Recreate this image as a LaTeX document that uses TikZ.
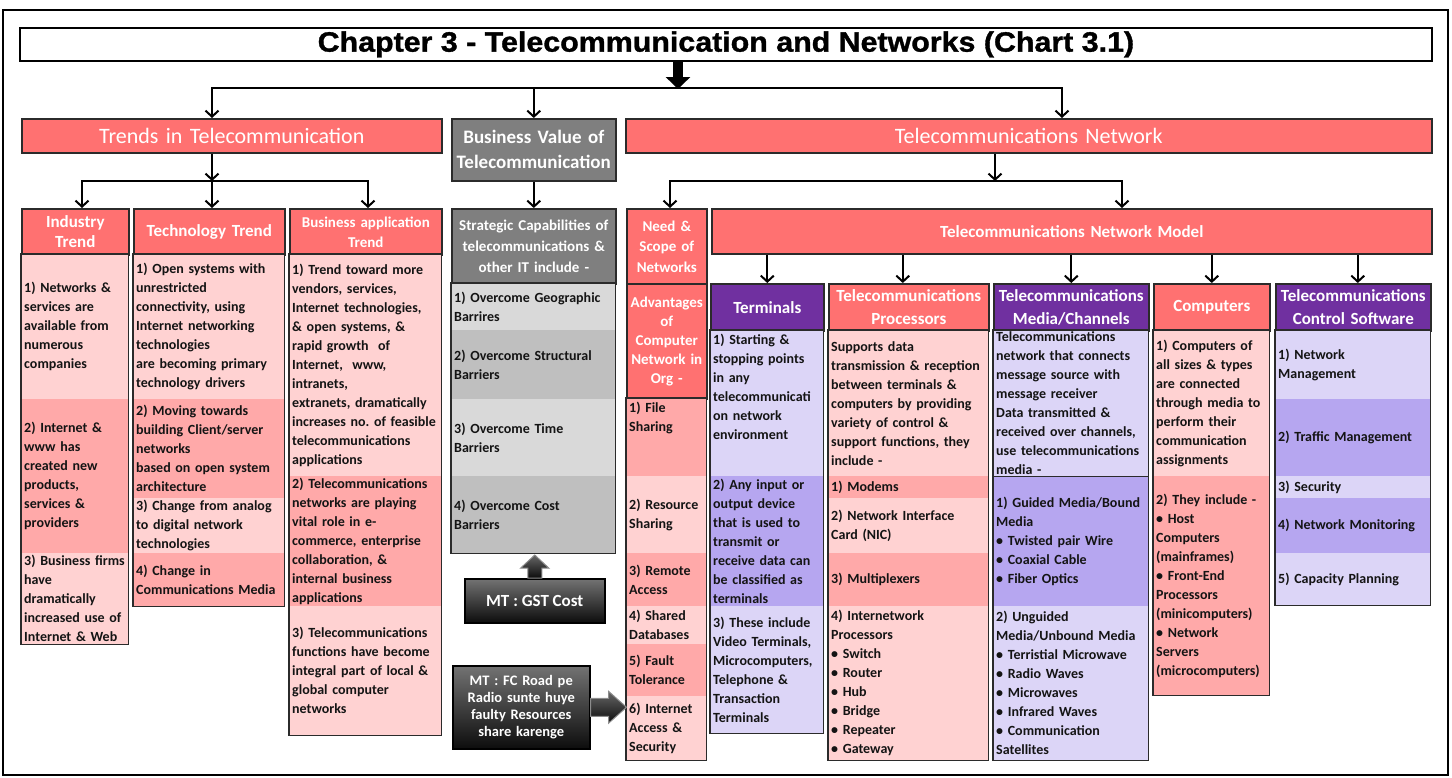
\documentclass[tikz,border=0pt]{standalone}
\usepackage{fontspec}
\setmainfont{Carlito}
\newfontfamily\headfont{Liberation Sans}[FakeStretch=1.085, FakeBold=1.2]
\usetikzlibrary{arrows.meta,calc}
\hyphenpenalty=10000
\exhyphenpenalty=10000
\frenchspacing

\definecolor{salmon}{HTML}{FF7171}
\definecolor{pinkL}{HTML}{FFD2D2}
\definecolor{pinkD}{HTML}{FFA9A9}
\definecolor{violet}{HTML}{7030A0}
\definecolor{lavL}{HTML}{DCD5F7}
\definecolor{lavD}{HTML}{B6A6F0}
\definecolor{greyH}{HTML}{7F7F7F}
\definecolor{greyL}{HTML}{D9D9D9}
\definecolor{greyD}{HTML}{BFBFBF}
\definecolor{edge}{HTML}{2B2B2B}

\tikzset{
  hdr/.style={draw=edge, line width=1.6pt, text=white, font=\bfseries\fontsize{17}{20.5}\selectfont, align=center, inner sep=0pt},
  bg/.style={inner sep=0pt, draw=none},
  bodytxt/.style={font=\bfseries\fontsize{14}{19}\selectfont, text=black!92, align=left, inner xsep=0pt, inner ysep=4pt},
  colframe/.style={draw=edge, line width=1.6pt},
  link/.style={line width=2.2pt, black},
  mtbox/.style={draw=black, line width=1.5pt, top color=black!55, bottom color=black!95, text=white, align=center, inner sep=2pt},
  blockarr/.style={draw=black!45, line width=1pt, top color=black!60, bottom color=black!95},
}

% header cell: [font] name x1 y1 x2 y2 fill text
\newcommand{\hcell}[8][]{%
  \pgfmathsetmacro{\cw}{#5-#3}\pgfmathsetmacro{\ch}{#6-#4}\pgfmathsetmacro{\tw}{#5-#3-4}%
  \node[hdr, fill=#7, #1, anchor=north west, minimum width=\cw pt, minimum height=\ch pt, text width=\tw pt] (#2) at (#3,#4) {#8};}

% body cell: [anchor] name x1 y1 x2 y2 fill text
\newcommand{\tcell}[8][center]{%
  \pgfmathsetmacro{\cw}{#5-#3}\pgfmathsetmacro{\ch}{#6-#4}\pgfmathsetmacro{\tw}{#5-#3-5}%
  \node[bg, fill=#7, anchor=north west, minimum width=\cw pt, minimum height=\ch pt] (#2) at (#3,#4) {};%
  \node[bodytxt, text width=\tw pt, anchor=#1] (#2-t) at ([xshift=0.5pt]#2.#1) {#8};}

\begin{document}
\begin{tikzpicture}[x=1pt, y=-1pt, >={Straight Barb[length=6pt,width=13pt,line width=2pt]}]
\useasboundingbox (0,0) rectangle (1452,777);
\draw[line width=1.3pt] (3,10) rectangle (1448,775);

% title
\node[draw=black, line width=1.8pt, minimum width=1412pt, minimum height=33pt, inner sep=0pt, anchor=north west,
      font=\headfont\bfseries\fontsize{28}{30}\selectfont] (title) at (19,27) {Chapter 3 - Telecommunication and Networks (Chart 3.1)};

% first level
\hcell[font=\fontsize{22}{26}\selectfont]{trends}{21}{118}{441}{152}{salmon}{Trends in Telecommunication}
\hcell[font=\bfseries\fontsize{19}{25}\selectfont]{bv}{451}{118}{615}{180}{greyH}{Business Value of\\Telecommunication}
\hcell[font=\fontsize{22}{26}\selectfont]{tnet}{625}{118}{1431}{152}{salmon}{Telecommunications Network}

% Industry trend
\hcell{indH}{21}{208}{128}{254}{salmon}{Industry\\Trend}
\tcell{ind1}{21}{254}{128}{399}{pinkL}{1) Networks \&\\services are\\available from\\numerous\\companies}
\tcell{ind2}{21}{399}{128}{553}{pinkD}{2) Internet \&\\www has\\created new\\products,\\services \&\\providers}
\tcell{ind3}{21}{553}{128}{644}{pinkL}{3) Business firms\\have\\dramatically\\increased use of\\Internet \& Web}

% Technology trend
\hcell{tecH}{133}{208}{284}{254}{salmon}{Technology Trend}
\tcell{tec1}{133}{254}{284}{399}{pinkL}{1) Open systems with\\unrestricted\\connectivity, using\\Internet networking\\technologies\\are becoming primary\\technology drivers}
\tcell{tec2}{133}{399}{284}{498}{pinkD}{2) Moving towards\\building Client/server\\networks\\based on open system\\architecture}
\tcell{tec3}{133}{498}{284}{553}{pinkL}{3) Change from analog\\to digital network\\technologies}
\tcell{tec4}{133}{553}{284}{606}{pinkD}{4) Change in\\Communications Media}

% Business application trend
\hcell[font=\bfseries\fontsize{15}{20}\selectfont]{bapH}{289}{208}{441}{254}{salmon}{Business application\\Trend}
\tcell{bap1}{289}{254}{441}{476}{pinkL}{1) Trend toward more\\vendors, services,\\Internet technologies,\\\& open systems, \&\\rapid growth\ \ of\\Internet,\ \ www,\\intranets,\\extranets, dramatically\\increases no. of feasible\\telecommunications\\applications}
\tcell{bap2}{289}{476}{441}{606}{pinkD}{2) Telecommunications\\networks are playing\\vital role in e-\\commerce, enterprise\\collaboration, \&\\internal business\\applications}
\tcell{bap3}{289}{606}{441}{735}{pinkL}{3) Telecommunications\\functions have become\\integral part of local \&\\global computer\\networks}

% Strategic capabilities
\hcell[font=\bfseries\fontsize{15}{21}\selectfont]{strH}{451}{208}{615}{283}{greyH}{Strategic Capabilities of\\telecommunications \&\\other IT include -}
\tcell{str1}{451}{283}{615}{330}{greyL}{1) Overcome Geographic\\Barrires}
\tcell{str2}{451}{330}{615}{399}{greyD}{2) Overcome Structural\\Barriers}
\tcell{str3}{451}{399}{615}{476}{greyL}{3) Overcome Time\\Barriers}
\tcell{str4}{451}{476}{615}{553}{greyD}{4) Overcome Cost\\Barriers}

% Need & scope
\hcell[font=\bfseries\fontsize{15}{20.5}\selectfont]{needH}{626}{208}{706}{283}{salmon}{Need \&\\Scope of\\Networks}
\hcell[font=\bfseries\fontsize{15}{19}\selectfont]{advH}{626}{283}{706}{398}{salmon}{Advantages\\of\\Computer\\Network in\\Org -}
\tcell[north]{need1}{626}{398}{706}{476}{pinkD}{1) File\\Sharing}
\tcell{need2}{626}{476}{706}{553}{pinkL}{2) Resource\\Sharing}
\tcell{need3}{626}{553}{706}{606}{pinkD}{3) Remote\\Access}
\tcell{need4}{626}{606}{706}{644}{pinkL}{4) Shared\\Databases}
\tcell{need5}{626}{644}{706}{696}{pinkD}{5) Fault\\Tolerance}
\tcell{need6}{626}{696}{706}{760}{pinkL}{6) Internet\\Access \&\\Security}

% Network model
\hcell{modH}{711}{208}{1431}{253}{salmon}{Telecommunications Network Model}

\hcell{terH}{710}{283}{823}{330}{violet}{Terminals}
\tcell[north]{ter1}{710}{330}{823}{476}{lavL}{1) Starting \&\\stopping points\\in any\\telecommunicati\\on network\\environment}
\tcell{ter2}{710}{476}{823}{606}{lavD}{2) Any input or\\output device\\that is used to\\transmit or\\receive data can\\be classified as\\terminals}
\tcell{ter3}{710}{606}{823}{733}{lavL}{3) These include\\Video Terminals,\\Microcomputers,\\Telephone \&\\Transaction\\Terminals}

\hcell[font=\bfseries\fontsize{17}{23}\selectfont]{proH}{828}{283}{988}{330}{salmon}{Telecommunications\\Processors}
\tcell{pro1}{828}{330}{988}{476}{pinkL}{Supports data\\transmission \& reception\\between terminals \&\\computers by providing\\variety of control \&\\support functions, they\\include -}
\tcell{pro2}{828}{476}{988}{498}{pinkD}{1) Modems}
\tcell{pro3}{828}{498}{988}{553}{pinkL}{2) Network Interface\\Card (NIC)}
\tcell{pro4}{828}{553}{988}{606}{pinkD}{3) Multiplexers}
\tcell{pro5}{828}{606}{988}{760}{pinkL}{4) Internetwork\\Processors\\• Switch\\• Router\\• Hub\\• Bridge\\• Repeater\\• Gateway}

\hcell[font=\bfseries\fontsize{17}{23}\selectfont]{medH}{993}{283}{1148}{330}{violet}{Telecommunications\\Media/Channels}
\tcell{med1}{993}{330}{1148}{476}{lavL}{Telecommunications\\network that connects\\message source with\\message receiver\\Data transmitted \&\\received over channels,\\use telecommunications\\media -}
\tcell{med2}{993}{476}{1148}{606}{lavD}{1) Guided Media/Bound\\Media\\• Twisted pair Wire\\• Coaxial Cable\\• Fiber Optics}
\tcell{med3}{993}{606}{1148}{760}{lavL}{2) Unguided\\Media/Unbound Media\\• Terristial Microwave\\• Radio Waves\\• Microwaves\\• Infrared Waves\\• Communication\\Satellites}

\hcell{comH}{1153}{283}{1269}{330}{salmon}{Computers}
\tcell{com1}{1153}{330}{1269}{476}{pinkL}{1) Computers of\\all sizes \& types\\are connected\\through media to\\perform their\\communication\\assignments}
\tcell{com2}{1153}{476}{1269}{695}{pinkD}{2) They include -\\• Host\\Computers\\(mainframes)\\• Front-End\\Processors\\(minicomputers)\\• Network\\Servers\\(microcomputers)}

\hcell[font=\bfseries\fontsize{17}{23}\selectfont]{ctlH}{1275}{283}{1430}{330}{violet}{Telecommunications\\Control Software}
\tcell{ctl1}{1275}{330}{1430}{399}{lavL}{1) Network\\Management}
\tcell{ctl2}{1275}{399}{1430}{476}{lavD}{2) Traffic Management}
\tcell{ctl3}{1275}{476}{1430}{498}{lavL}{3) Security}
\tcell{ctl4}{1275}{498}{1430}{553}{lavD}{4) Network Monitoring}
\tcell{ctl5}{1275}{553}{1430}{605}{lavL}{5) Capacity Planning}

% column outlines
\foreach \a/\b in {ind1/ind3, tec1/tec4, bap1/bap3, str1/str4, need1/need6, ter1/ter3, pro1/pro5, med1/med3, com1/com2, ctl1/ctl5}
  \draw[colframe] (\a.north west) rectangle (\b.south east);
\draw[colframe] (med1.south west) -- (med1.south east);

% memory-tip boxes and block arrows
\node[mtbox, font=\bfseries\fontsize{17}{20}\selectfont, minimum width=140pt, minimum height=44pt, anchor=north west] (gst) at (464,578) {MT : GST Cost};
\node[mtbox, font=\bfseries\fontsize{14.5}{17}\selectfont, minimum width=137pt, minimum height=83pt, text width=132pt, anchor=north west] (fc) at (452,665) {MT : FC Road pe\\Radio sunte huye\\faulty Resources\\share karenge};
\draw[blockarr] ($(gst.north)+(-7,0)$) -- ($(gst.north)+(-7,-10)$) -- ($(gst.north)+(-14,-10)$) -- ($(gst.north)+(0,-23)$)
  -- ($(gst.north)+(14,-10)$) -- ($(gst.north)+(7,-10)$) -- ($(gst.north)+(7,0)$) -- cycle;
\draw[blockarr] ($(fc.east)+(0,-9)$) -- ($(fc.east)+(18,-9)$) -- ($(fc.east)+(18,-16)$) -- ($(fc.east)+(36,0)$)
  -- ($(fc.east)+(18,16)$) -- ($(fc.east)+(18,9)$) -- ($(fc.east)+(0,9)$) -- cycle;

% connectors
\coordinate (jt) at (678,89);
\coordinate (jl) at (212,88);
\coordinate (jr) at (1062,88);
\draw[line width=10pt, -{Triangle[length=12pt,width=24pt]}] (title.south -| jt) -- (jt);
\draw[link, <->] (jl |- trends.north) -- (jl) -- (jr) -- (jr |- tnet.north);
\draw[link, ->] (bv.north |- jl) -- (bv.north);

\coordinate (tm) at (212,181);
\coordinate (tl) at (82,181);
\coordinate (tr) at (368,181);
\draw[link, ->] (trends.south -| tm) -- (tm);
\draw[link, <->] (tl |- indH.north) -- (tl) -- (tr) -- (tr |- bapH.north);
\draw[link, ->] (tm) -- (tm |- tecH.north);

\draw[link, ->] (bv.south) -- (bv.south |- strH.north);

\coordinate (nm) at (995,181);
\coordinate (nl) at (670,181);
\coordinate (nr) at (1122,181);
\draw[link, ->] (tnet.south -| nm) -- (nm);
\draw[link, <->] (nl |- needH.north) -- (nl) -- (nr) -- (nr |- modH.north);

\coordinate (p1) at (terH.north);
\coordinate (p2) at ($(proH.north)+(-6,0)$);
\coordinate (p3) at (medH.north);
\coordinate (p4) at (comH.north);
\coordinate (p5) at ($(ctlH.north)+(4.5,0)$);
\foreach \p in {p1,p2,p3,p4,p5}
  \draw[link, ->] (\p |- modH.south) -- (\p);
\end{tikzpicture}
\end{document}
